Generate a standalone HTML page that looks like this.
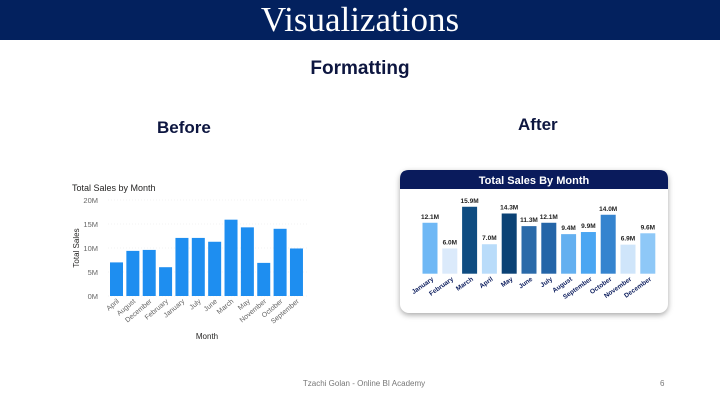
<!DOCTYPE html>
<html><head><meta charset="utf-8"><style>
body{margin:0;width:720px;height:404px;background:#fff;overflow:hidden;position:relative;font-family:"Liberation Sans",sans-serif}
.abs{position:absolute}
</style></head><body>
<div class="abs" style="left:0;top:0;width:720px;height:40px;background:#03215e;"></div>
<div class="abs" style="left:0;top:1px;width:720px;text-align:center;color:#fff;font-family:'Liberation Serif',serif;font-size:35px;line-height:38px">Visualizations</div>
<div class="abs" style="left:0;top:58px;width:720px;text-align:center;color:#0d1640;font-weight:bold;font-size:19px">Formatting</div>
<div class="abs" style="left:157px;top:118px;color:#0d1640;font-weight:bold;font-size:17px">Before</div>
<div class="abs" style="left:518px;top:115px;color:#0d1640;font-weight:bold;font-size:17px">After</div>
<div class="abs" style="left:400px;top:170px;width:268px;height:143px;border-radius:9px;background:#fff;box-shadow:0 2px 6px rgba(0,0,0,0.35)"></div>
<svg class="abs" style="left:0;top:0" width="720" height="404" id="svg"></svg>
<div class="abs" style="left:250px;top:379px;width:228px;text-align:center;color:#777;font-size:8px">Tzachi Golan - Online BI Academy</div>
<div class="abs" style="left:660px;top:379px;color:#777;font-size:8px">6</div>
<script>
const beforeMonths=["April","August","December","February","January","July","June","March","May","November","October","September"];
const beforeValues=[7.0,9.4,9.6,6.0,12.1,12.1,11.3,15.9,14.3,6.9,14.0,9.9];
const yTicks=[0,5,10,15,20];
const afterMonths=["January","February","March","April","May","June","July","August","September","October","November","December"];
const afterValues=[12.1,6.0,15.9,7.0,14.3,11.3,12.1,9.4,9.9,14.0,6.9,9.6];
const afterColors=["#6fb8f5","#dbeafb","#0f4c81","#b9dcfa","#0b4275","#2a6aa9","#2465a8","#64b0f0","#4aa6f2","#3584cf","#cfe5fa","#8ec8f7"];
const svg=document.getElementById('svg');const NS='http://www.w3.org/2000/svg';
function mk(t,a,txt){const e=document.createElementNS(NS,t);for(const k in a)e.setAttribute(k,a[k]);if(txt!==undefined)e.textContent=txt;svg.appendChild(e);return e;}
const by=v=>296-v/20*96;const bx=i=>116.5+i*16.36;
let t=mk('text',{x:72,y:191,'font-size':9,fill:'#252423'},'Total Sales by Month');

yTicks.forEach(v=>{
 let l=mk('line',{x1:108,x2:307,y1:by(v),y2:by(v),stroke:'#e8e8e8','stroke-dasharray':'1,2','stroke-width':0.6});
 
 let tt=mk('text',{x:98,y:by(v)+3,'font-size':7.5,fill:'#666','text-anchor':'end'},v+'M');
 
});
t=mk('text',{x:0,y:0,'font-size':8,fill:'#252423',transform:'translate(79,248) rotate(-90)','text-anchor':'middle'},'Total Sales');

t=mk('text',{x:207,y:339,'font-size':8,fill:'#252423','text-anchor':'middle'},'Month');

beforeValues.forEach((v,i)=>{
 let r=mk('rect',{x:bx(i)-6.5,y:by(v),width:13,height:296-by(v),fill:'#1e8ef0'});
 
 let l=mk('text',{x:0,y:0,'font-size':7,fill:'#666','text-anchor':'end',transform:`translate(${bx(i)+3},${302}) rotate(-40)`},beforeMonths[i]);
 
});
const ay=v=>273.7-v*4.21;const ax=i=>430+i*19.8;
let p=mk('path',{d:'M400,189 V179 Q400,170 409,170 H659 Q668,170 668,179 V189 Z',fill:'#0a1b5c'});

t=mk('text',{x:534,y:184,'font-size':11,'font-weight':'bold',fill:'#fff','text-anchor':'middle'},'Total Sales By Month');

afterValues.forEach((v,i)=>{
 let r=mk('rect',{x:ax(i)-7.5,y:ay(v),width:15,height:273.7-ay(v),fill:afterColors[i]});
 
 let d=mk('text',{x:ax(i),y:ay(v)-4,'font-size':6.5,'font-weight':'bold',fill:'#222','text-anchor':'middle'},v.toFixed(1)+'M');
 
 let l=mk('text',{x:0,y:0,'font-size':6.5,'font-weight':'bold',fill:'#0a1b5c','text-anchor':'end',transform:`translate(${ax(i)+4},${280}) rotate(-35)`},afterMonths[i]);
 
});
</script>
</body></html>
